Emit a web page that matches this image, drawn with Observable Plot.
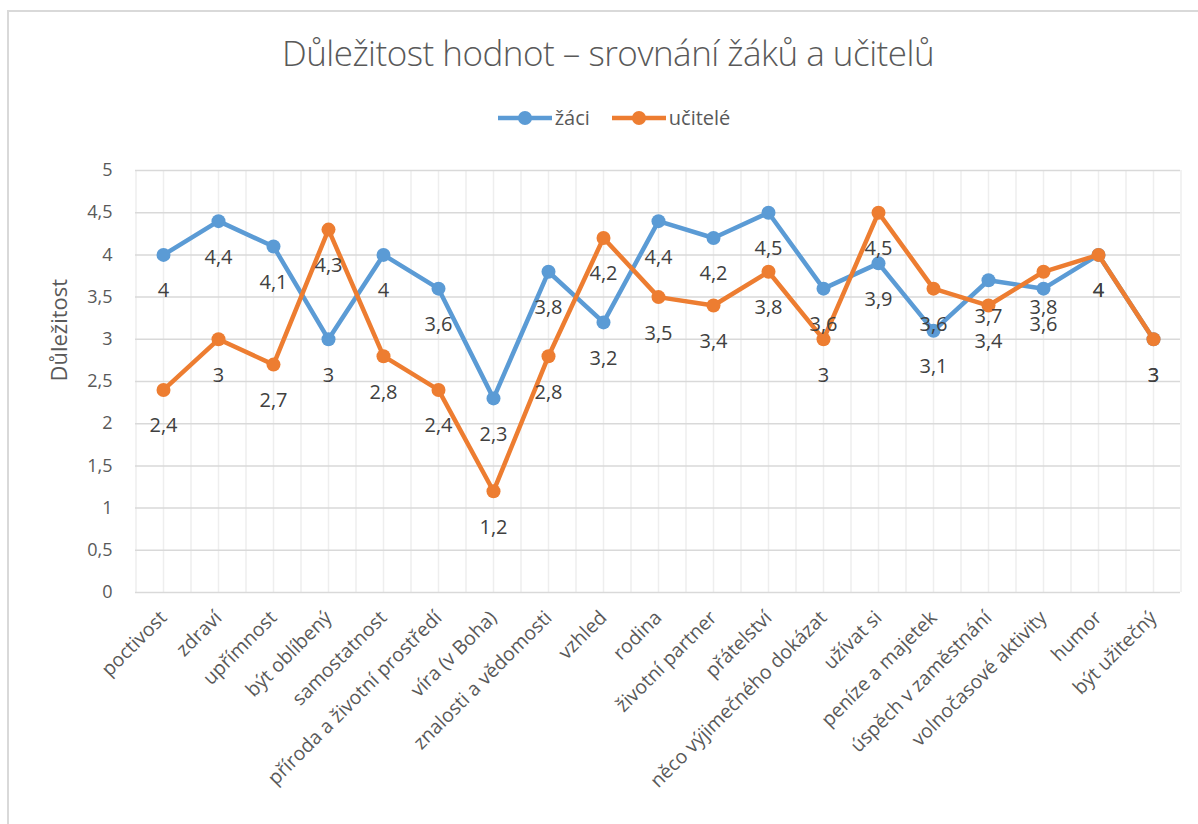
<!DOCTYPE html>
<html><head><meta charset="utf-8">
<script src="https://cdn.jsdelivr.net/npm/d3@7"></script>
<script src="https://cdn.jsdelivr.net/npm/@observablehq/plot@0.6"></script>
<style>
body{margin:0;background:#fff;}
#wrap{position:relative;width:1198px;height:824px;overflow:hidden;font-family:"Open Sans",sans-serif;background:#fff;}
#frame{position:absolute;left:7px;top:10px;width:1220px;height:840px;border:2px solid #d9d9d9;box-sizing:border-box;}
#title{position:absolute;top:29px;left:0;width:1216px;text-align:center;font-size:35px;letter-spacing:-0.5px;font-weight:300;color:#595959;white-space:nowrap;line-height:48px;}
#legend{position:absolute;top:104px;left:0;width:1228px;display:flex;justify-content:center;align-items:center;gap:22px;font-size:20px;color:#595959;line-height:28px;}
#legend .item{display:flex;align-items:center;gap:3px;}
#chart{position:absolute;left:0;top:140px;}
</style></head>
<body>
<div id="wrap">
<div id="frame"></div>
<div id="title">Důležitost hodnot – srovnání žáků a učitelů</div>
<div id="legend"></div>
<div id="chart"></div>
</div>
<script>
const categories = ["poctivost","zdraví","upřímnost","být oblíbený","samostatnost","příroda a životní prostředí","víra (v Boha)","znalosti a vědomosti","vzhled","rodina","životní partner","přátelství","něco výjimečného dokázat","užívat si","peníze a majetek","úspěch v zaměstnání","volnočasové aktivity","humor","být užitečný"];
const zaci = [4,4.4,4.1,3,4,3.6,2.3,3.8,3.2,4.4,4.2,4.5,3.6,3.9,3.1,3.7,3.6,4,3];
const ucitele = [2.4,3,2.7,4.3,2.8,2.4,1.2,2.8,4.2,3.5,3.4,3.8,3,4.5,3.6,3.4,3.8,4,3];
const seriesNames = ["žáci","učitelé"];
const seriesColors = ["#5b9bd5","#ed7d31"];
const yTicks = [0,0.5,1,1.5,2,2.5,3,3.5,4,4.5,5];
const yLabel = "Důležitost";

const seriesValues = [zaci, ucitele];
const rows = [];
seriesNames.forEach((s, si) => categories.forEach((c, i) => rows.push({series: s, category: c, value: seriesValues[si][i]})));
const fmt = v => String(v).replace(".", ",");

// legend
const legend = document.getElementById("legend");
seriesNames.forEach((s, i) => {
  const it = document.createElement("div");
  it.className = "item";
  it.innerHTML = `<svg width="54" height="16"><line x1="0" y1="8" x2="54" y2="8" stroke="${seriesColors[i]}" stroke-width="4.5"/><circle cx="27" cy="8" r="7" fill="${seriesColors[i]}"/></svg><span>${s}</span>`;
  legend.appendChild(it);
});

const seriesMarks = seriesNames.flatMap((s, i) => [
  Plot.line(rows, {filter: d => d.series === s, x: "category", y: "value", stroke: seriesColors[i], strokeWidth: 4.5, strokeLinejoin: "round"}),
  Plot.dot(rows, {filter: d => d.series === s, x: "category", y: "value", fill: seriesColors[i], r: 7})
]);

const chart = Plot.plot({
  width: 1198, height: 684,
  marginTop: 30, marginBottom: 232, marginLeft: 135, marginRight: 18,
  style: {fontFamily: "Open Sans", background: "transparent", color: "#595959"},
  x: {type: "point", domain: categories, padding: 0.5, label: null},
  y: {domain: [0, 5], label: null},
  marks: [
    Plot.ruleX(categories, {stroke: "#eeeeee", strokeWidth: 1.5}),
    Plot.ruleX(categories, {dx: 27.5, stroke: "#eeeeee", strokeWidth: 1.5}),
    Plot.ruleX([categories[0]], {dx: -27.5, stroke: "#eeeeee", strokeWidth: 1.5}),
    Plot.ruleY(yTicks, {stroke: "#d9d9d9", strokeWidth: 1.5}),
    Plot.axisY({ticks: yTicks, tickSize: 0, tickPadding: 23, tickFormat: fmt, fontSize: 18, color: "#595959", label: null}),
    Plot.axisX({tickSize: 0, tickRotate: -45, tickPadding: 22, fontSize: 19.5, color: "#595959", label: null}),
    Plot.text([yLabel], {frameAnchor: "left", dx: -76, rotate: -90, fontSize: 22, fill: "#595959"}),
    ...seriesMarks,
    Plot.text(rows, {x: "category", y: "value", text: d => fmt(d.value), dy: 36, fontSize: 20, fill: "#404040"})
  ]
});
document.getElementById("chart").appendChild(chart);
</script>
</body></html>
